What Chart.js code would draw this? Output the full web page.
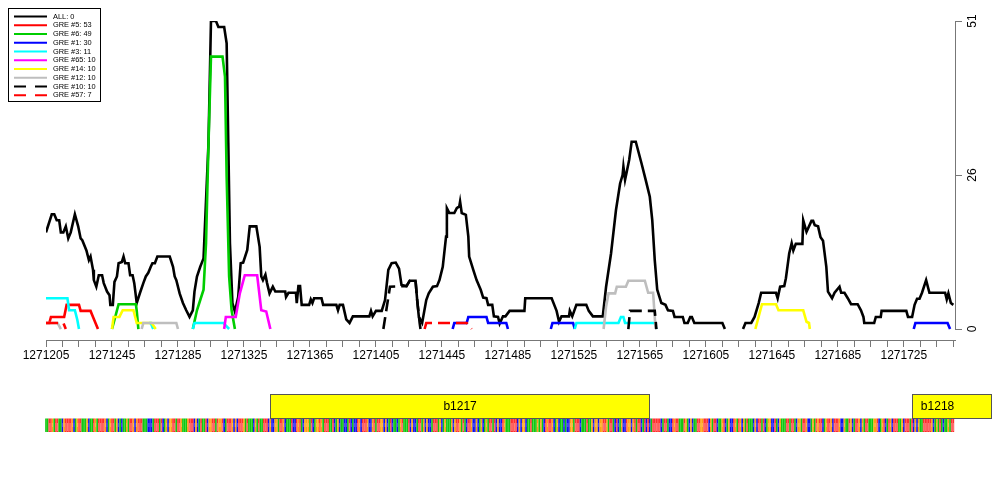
<!DOCTYPE html>
<html lang="en">
<head>
<meta charset="UTF-8">
<title>GRE coverage</title>
<script src="https://cdn.jsdelivr.net/npm/chart.js@4.4.1/dist/chart.umd.min.js"></script>
<style>
    html, body { margin: 0; padding: 0; background: #fff; }
    #wrap { width: 1000px; height: 500px; }
</style>
</head>
<body>
<div id="wrap"><canvas id="chart" width="1000" height="500"></canvas></div>
<script>
// window on the genome
const xStart = 1271205;
const xEnd = 1271756;
const yTicks = [0, 25.5, 51];
const yTickLabels = ['0', '26', '51'];

const seriesLabels = ['ALL: 0', 'GRE #5: 53', 'GRE #6: 49', 'GRE #1: 30', 'GRE #3: 11',
    'GRE #65: 10', 'GRE #14: 10', 'GRE #12: 10', 'GRE #10: 10', 'GRE #57: 7'];
const seriesColors = ['#000000', '#FF0000', '#00CD00', '#0000FF', '#00FFFF',
    '#FF00FF', '#FFFF00', '#BEBEBE', '#000000', '#FF0000'];
const seriesDashed = [false, false, false, false, false, false, false, false, true, true];

// [position, count]; [position, null] breaks the line
const allCounts = [[1271205,16],[1271208.5,19],[1271210,19],[1271211.5,18],[1271213,18],[1271214,16],[1271215.5,16],[1271217,17],[1271218.5,15],[1271220,16],[1271222.5,19],[1271224.5,17],[1271226,15],[1271227,14.7],[1271229.5,13],[1271231,11.4],[1271232,12],[1271233.5,9.8],[1271234,8.1],[1271235.5,7],[1271237,8.9],[1271239,8.9],[1271240,7.6],[1271242,6.2],[1271243.5,5.6],[1271244,4],[1271245.5,4],[1271246.5,7.8],[1271248,8.7],[1271249,10.9],[1271251,11.1],[1271252,12],[1271253,10.9],[1271255,10.9],[1271256,8.9],[1271257.5,8.9],[1271258.5,7.6],[1271260,4.3],[1271262,6],[1271264,7.6],[1271265.5,8.7],[1271267,9.3],[1271268.5,10.3],[1271269.5,10.9],[1271271,10.9],[1271272.5,12],[1271280,12],[1271282,10.3],[1271283,8.7],[1271284,8.1],[1271286,5.9],[1271288,4.3],[1271290,3.1],[1271292,2],[1271294,3.1],[1271295,6.2],[1271296.5,8.7],[1271298.5,10.3],[1271300.5,11.7],[1271303.5,30.8],[1271305,51],[1271308,51],[1271309.5,50],[1271313,50],[1271314.5,47.3],[1271315.5,30.8],[1271316.5,14.2],[1271318,4.3],[1271319.5,2.9],[1271321.5,5.3],[1271323,10.9],[1271324.5,11],[1271327,13.1],[1271328.5,17],[1271332.5,17],[1271334.5,13.6],[1271335.5,8.7],[1271336.5,8.1],[1271338,9],[1271339,7.6],[1271340.5,5.9],[1271342.5,7],[1271344,6.2],[1271350,6.2],[1271350.5,5.3],[1271352,6],[1271356.5,6],[1271357,4.3],[1271358,7.1],[1271359,7.1],[1271360,4],[1271364.5,4],[1271365.5,4.9],[1271366.5,4.3],[1271367.5,5.1],[1271372,5.1],[1271373,4],[1271381,4],[1271382,3.1],[1271383,4],[1271385,4],[1271387,1.6],[1271389,1],[1271391,2.1],[1271401,2.1],[1271402,3],[1271403,2.1],[1271405,3],[1271408.5,3],[1271410.5,4.8],[1271412.5,9.8],[1271414.5,10.9],[1271417,11],[1271419,10],[1271420.5,7.3],[1271423.5,7.1],[1271425.5,8],[1271429,8],[1271430,4.8],[1271431,2],[1271433,1],[1271435.5,4.8],[1271437,5.9],[1271439.5,7],[1271442,7.1],[1271443.5,8.1],[1271445.5,10.3],[1271447.5,15.3],[1271448,20],[1271449.5,19.2],[1271452.5,19.2],[1271454,20],[1271455.5,20.3],[1271456,21.1],[1271457,19.2],[1271459.5,18.9],[1271461,15.3],[1271461.5,12],[1271464,9.8],[1271466,8.1],[1271468.5,6.5],[1271470,5.2],[1271472,5.1],[1271473,4],[1271475.5,4],[1271476.5,2.1],[1271479,2],[1271480,0.9],[1271482,2.1],[1271483.5,2.1],[1271486,3],[1271495,3],[1271495.5,5.1],[1271511.5,5.1],[1271514.5,3],[1271516,1.2],[1271517.5,2.1],[1271522,2.1],[1271522.5,3],[1271524,2.1],[1271526.5,4],[1271532.5,4],[1271534,3],[1271536.5,2.1],[1271542.5,2.1],[1271544.5,7],[1271547.5,12.5],[1271550.5,19.7],[1271553,24.1],[1271554.5,25.5],[1271555,26.9],[1271556,24.7],[1271557,26],[1271558.5,28],[1271560,31],[1271562.5,31],[1271566,27.4],[1271568.5,24.7],[1271571,21.9],[1271572.5,18],[1271574,11.4],[1271575.5,6.5],[1271578,4.3],[1271580.5,4],[1271582,3.1],[1271585,3],[1271586,2],[1271591,2],[1271592,1],[1271594,1],[1271595.5,2],[1271596.5,2],[1271598,1],[1271615,1],[1271616.5,0],[1271622,null],[1271627.5,0],[1271629,1],[1271632.5,1],[1271634.5,2],[1271637,4.3],[1271638.5,6],[1271647.5,6],[1271648.5,5.1],[1271650,7],[1271652.5,7.1],[1271653.5,8.4],[1271655.5,12.5],[1271657,14.2],[1271658,13],[1271659.5,14.1],[1271663.5,14.1],[1271664,18],[1271666,16.1],[1271669,17.9],[1271670,17.9],[1271671,17.2],[1271673,17],[1271674.5,15.2],[1271676,14.6],[1271678,10.3],[1271679,6.2],[1271681.5,5.1],[1271683,6],[1271686,7],[1271687,6],[1271689,6],[1271691,5.1],[1271693,4.1],[1271697,4.1],[1271699,3.1],[1271700.5,2],[1271701,1],[1271707,1],[1271708,2],[1271711,2],[1271711.5,3],[1271726.5,3],[1271727.5,2],[1271730,2],[1271731.5,4],[1271733,5],[1271734.5,5],[1271736,6],[1271738.5,8.1],[1271740.5,6],[1271750,6],[1271751,4.9],[1271752,5.9],[1271753.5,4.3],[1271755,4]];
const gre5 = [[1271205,1],[1271207,1],[1271208,2],[1271216,2],[1271217.5,4],[1271225,4],[1271226,3],[1271232,3],[1271233.5,2],[1271235,1],[1271236.5,0]];
const gre6 = [[1271245,0],[1271246,1],[1271249,4.1],[1271259.5,4.1],[1271260,3],[1271261,0],[1271280,null],[1271294,0],[1271296.5,3.1],[1271298.5,4.8],[1271300.5,6.5],[1271302,14.2],[1271303.5,30.7],[1271305,45.1],[1271312,45.1],[1271313.5,41.8],[1271314.5,25.2],[1271316,8.7],[1271317.5,3.1],[1271319.5,0]];
const gre1 = [[1271451.5,0],[1271452.5,1],[1271460,1],[1271461,2],[1271472,2],[1271473,1],[1271484,1],[1271485,0],[1271500,null],[1271511,0],[1271512,1],[1271524.5,1],[1271525.5,0],[1271600,null],[1271731,0],[1271732,1],[1271751.5,1],[1271753,0]];
const gre3 = [[1271205,5.1],[1271218,5.1],[1271219,3.1],[1271222.5,3.1],[1271224,1.5],[1271225,0],[1271240,null],[1271267.5,1],[1271268.5,1],[1271270,0],[1271280,null],[1271294,0],[1271295,1],[1271312.5,1],[1271316,0],[1271400,null],[1271525.5,0],[1271526.5,1],[1271552,1],[1271553.5,2],[1271555,2],[1271556,1],[1271574,1],[1271575,0]];
const gre65 = [[1271313,0],[1271314,2],[1271320,2],[1271322.5,5.9],[1271325.5,8.9],[1271333,8.9],[1271335.5,3.1],[1271338.5,2.9],[1271341,0]];
const gre14 = [[1271245,0],[1271246,2],[1271249.5,2],[1271251.5,3.1],[1271258,3.1],[1271260,1],[1271269,1],[1271271.5,0],[1271400,null],[1271635,0],[1271639,4.1],[1271647.5,4.1],[1271649,3.1],[1271664,3.1],[1271666,1.2],[1271667.5,1],[1271668,0]];
const gre12 = [[1271205,1],[1271212,1],[1271214,0],[1271240,null],[1271263,0],[1271264,1],[1271284,1],[1271285,0],[1271400,null],[1271543,0],[1271544.5,3.7],[1271546,5.9],[1271550,5.9],[1271551,7],[1271556.5,7],[1271558,8],[1271568,8],[1271570,6],[1271573,6],[1271574.5,0]];
const gre10 = [[1271409.5,0],[1271413.5,7],[1271423.5,7.1],[1271425.5,8],[1271429,8],[1271430,4.8],[1271431.5,1],[1271432,0],[1271500,null],[1271558,0],[1271559,3],[1271574,3],[1271575,0]];
const gre57 = [[1271205,1],[1271215.5,1],[1271217,0],[1271300,null],[1271434.5,0],[1271435.5,1],[1271460,1],[1271463,0]];
const seriesData = [allCounts, gre5, gre6, gre1, gre3, gre65, gre14, gre12, gre10, gre57];

// genes and sequence under the plot
const geneNames = ['b1217', 'b1218'];
const geneStarts = [1271341, 1271730];
const geneEnds = [1271571, 1271778];
const sequence = `
AATTGATTAA CGTTTTGCAG TTAAAGCAAT GATTTTGCAG TTAGCACAAG ATTGCGTTTA AACCCATTTA TCAGCGGTTA
TTGAAAGTTT CGCATAATCG GTTATGGTCA TTTGCGCTTT GATAAACGAT AATTTCGCCG GATTGCAAAT CCTGTACGGG
ATCAGGTGAT TTAATCAGCA ACCATCACCT GCTTTGCCGT ATTGGCGCAT CAACAGTAAA TCGCCATTAG CGCCATTTAG
CAGAAAGCGT TGATACTTGC CGCAGCAGAT TATCGCCTGA AATTTTCGCG GCAATAAAGA GACTGTTGCA GCAACACCGG
ATTTCAAATA AGCGGCGGTT GATTACTCAG CCTGGCGTAT TCATCTCATT TTTCATTACC TGTTAAATGA CGCAATTGGT
TTCGATTCAA GTCAGCCTGA TGCGATAAAC GCTTATCAGG CCTACGAAAT TATTACGGAT TGCCAGATGT TCAGTTGCTT
TGCCGAATGC ATTGCGATTA AAGGTCAGTC ATGCTTTAAG CTTTATCGCG AATTTTTGCA GATACAAGAT T`.replace(/\s/g, '');
const baseColors = { A: '#10C810', C: '#1010F0', G: '#FFA010', T: '#FF2E2E' };
const baseLight = { A: '#60DC60', C: '#7070FF', G: '#FFC860', T: '#FF7A7A' };

const FONT = '"Liberation Sans", Arial, Helvetica, sans-serif';

const whiteBg = {
    id: 'whiteBg',
    beforeDraw(chart) {
        const ctx = chart.ctx;
        ctx.save();
        ctx.fillStyle = '#fff';
        ctx.fillRect(0, 0, chart.width, chart.height);
        ctx.restore();
    }
};

// right axis line runs only between 0 and 51
const rightAxisLine = {
    id: 'rightAxisLine',
    afterDraw(chart) {
        const y = chart.scales.y, ctx = chart.ctx;
        const x = Math.round(chart.chartArea.right) + 0.5;
        ctx.save();
        ctx.strokeStyle = '#777';
        ctx.lineWidth = 1;
        ctx.beginPath();
        ctx.moveTo(x, y.getPixelForValue(yTicks[0]));
        ctx.lineTo(x, y.getPixelForValue(yTicks[yTicks.length - 1]));
        ctx.stroke();
        ctx.restore();
    }
};

const greLegend = {
    id: 'greLegend',
    afterDraw(chart) {
        const ctx = chart.ctx;
        ctx.save();
        ctx.fillStyle = '#fff';
        ctx.fillRect(8, 8, 92, 94);
        ctx.strokeStyle = '#000';
        ctx.lineWidth = 1;
        ctx.strokeRect(8.5, 8.5, 92, 93);
        ctx.font = '7.4px ' + FONT;
        ctx.textBaseline = 'middle';
        seriesLabels.forEach((lab, i) => {
            const yy = 16.5 + i * 8.75;
            ctx.strokeStyle = seriesColors[i];
            ctx.lineWidth = 2;
            ctx.setLineDash(seriesDashed[i] ? [12, 9] : []);
            ctx.beginPath();
            ctx.moveTo(14, yy);
            ctx.lineTo(47, yy);
            ctx.stroke();
            ctx.fillStyle = '#000';
            ctx.fillText(lab, 53, yy);
        });
        ctx.restore();
    }
};

const geneTrack = {
    id: 'geneTrack',
    afterDraw(chart) {
        const x = chart.scales.x, ctx = chart.ctx;
        ctx.save();
        // sequence letters, squeezed to one base per slot
        for (let i = 0; i < sequence.length; i++) {
            const p = xStart + i;
            const x0 = x.getPixelForValue(p - 0.5);
            const x1 = x.getPixelForValue(p + 0.5);
            const b = sequence[i];
            ctx.fillStyle = baseColors[b];
            ctx.fillRect(x0, 418.5, x1 - x0, 13.5);
            ctx.fillStyle = baseLight[b];
            if (b === 'T') ctx.fillRect(x0 + 0.3, 423, x1 - x0 - 0.6, 8);
            if (b === 'C' || b === 'G') ctx.fillRect(x0 + (x1 - x0) / 2 - 0.3, 423, 0.6, 4);
        }
        // gene boxes
        ctx.font = '12px ' + FONT;
        ctx.textAlign = 'center';
        ctx.textBaseline = 'middle';
        geneNames.forEach((name, i) => {
            const a = x.getPixelForValue(geneStarts[i]);
            const b = x.getPixelForValue(geneEnds[i]);
            ctx.fillStyle = '#FFFF00';
            ctx.fillRect(a, 394, b - a, 24);
            ctx.strokeStyle = '#555';
            ctx.lineWidth = 1;
            ctx.strokeRect(Math.round(a) + 0.5, 394.5, Math.round(b - a), 24);
            const c = (a + Math.min(b, x.getPixelForValue(xEnd) + 8)) / 2;
            ctx.fillStyle = '#000';
            ctx.fillText(name, c, 406.5);
        });
        ctx.restore();
    }
};

const n = seriesData.length;
const datasets = seriesData.map((pts, i) => ({
    label: seriesLabels[i],
    data: pts.map(([px, v]) => ({ x: px, y: v })),
    borderColor: seriesColors[i],
    borderWidth: 2.6,
    borderDash: seriesDashed[i] ? [12, 6] : [],
    pointRadius: 0,
    fill: false,
    tension: 0,
    spanGaps: false,
    order: n - i
}));

new Chart(document.getElementById('chart'), {
    type: 'line',
    data: { datasets: datasets },
    options: {
        responsive: false,
        animation: false,
        events: [],
        layout: { padding: { left: 46, top: 21, right: 0, bottom: 0 } },
        plugins: {
            legend: { display: false },
            tooltip: { enabled: false }
        },
        scales: {
            x: {
                type: 'linear',
                position: 'bottom',
                min: xStart,
                max: xEnd,
                afterBuildTicks: (scale) => {
                    const t = [];
                    for (let v = xStart; v < xEnd; v += 10) t.push({ value: v });
                    scale.ticks = t;
                },
                afterFit: (scale) => { scale.height = 160; },
                grid: { drawOnChartArea: false, drawTicks: true, tickLength: 7, color: '#777' },
                border: { display: true, color: '#777' },
                ticks: {
                    autoSkip: false,
                    maxRotation: 0,
                    minRotation: 0,
                    padding: 1,
                    color: '#000',
                    font: { family: FONT, size: 12 },
                    callback: (v) => ((v - xStart) % 40 === 0 ? String(v) : '')
                }
            },
            y: {
                type: 'linear',
                position: 'right',
                min: -1.82,
                max: 51,
                afterBuildTicks: (scale) => { scale.ticks = yTicks.map(v => ({ value: v })); },
                afterFit: (scale) => { scale.width = 45; },
                grid: { drawOnChartArea: false, drawTicks: true, tickLength: 7, color: '#777' },
                border: { display: false },
                ticks: {
                    minRotation: 90,
                    maxRotation: 90,
                    crossAlign: 'center',
                    padding: 4,
                    color: '#000',
                    font: { family: FONT, size: 12 },
                    callback: (v, idx) => yTickLabels[idx]
                }
            }
        }
    },
    plugins: [whiteBg, rightAxisLine, greLegend, geneTrack]
});
</script>
</body>
</html>
